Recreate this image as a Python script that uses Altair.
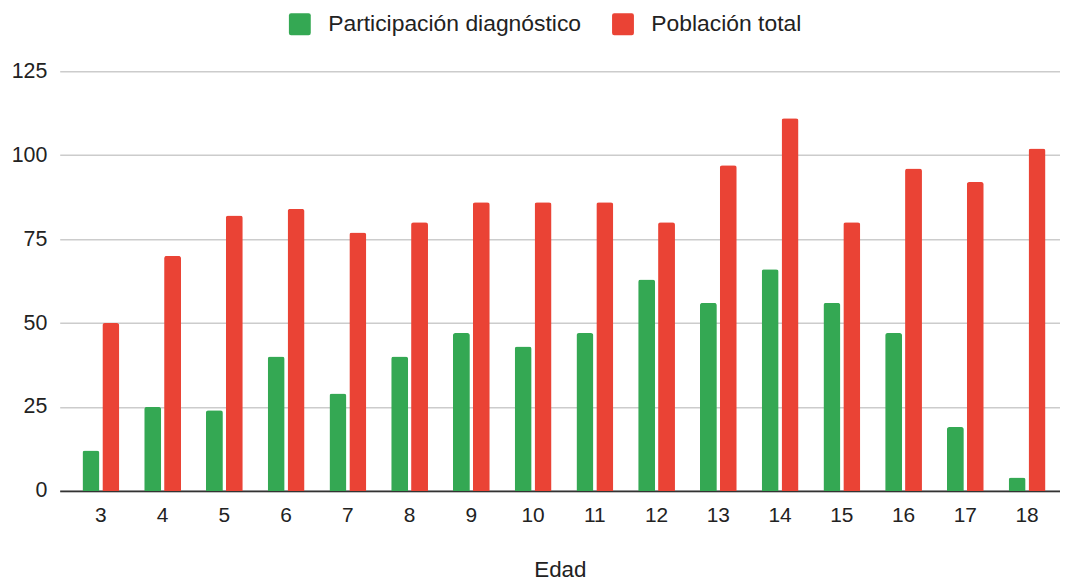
import altair as alt
import pandas as pd

edades = ["3", "4", "5", "6", "7", "8", "9", "10", "11", "12", "13", "14", "15", "16", "17", "18"]
participacion = [12, 25, 24, 40, 29, 40, 47, 43, 47, 63, 56, 66, 56, 47, 19, 4]
poblacion = [50, 70, 82, 84, 77, 80, 86, 86, 86, 80, 97, 111, 80, 96, 92, 102]
series = ["Participación diagnóstico", "Población total"]
colores = ["#34A853", "#EA4335"]

rows = []
for e, p, t in zip(edades, participacion, poblacion):
    rows.append({"Edad": e, "Serie": series[0], "Valor": p})
    rows.append({"Edad": e, "Serie": series[1], "Valor": t})
df = pd.DataFrame(rows)

FONT = "Liberation Sans"
ROUNDED_SQUARE = (
    "M -0.8,-1 H 0.8 Q 1,-1 1,-0.8 V 0.8 Q 1,1 0.8,1 H -0.8 "
    "Q -1,1 -1,0.8 V -0.8 Q -1,-1 -0.8,-1 Z"
)

chart = (
    alt.Chart(df)
    .mark_bar(cornerRadiusTopLeft=2.5, cornerRadiusTopRight=2.5)
    .encode(
        x=alt.X(
            "Edad:N",
            sort=edades,
            title="Edad",
            scale=alt.Scale(paddingInner=0.404, paddingOuter=0.302, align=0.61),
            axis=alt.Axis(
                labelAngle=0,
                ticks=False,
                labelPadding=14,
                labelFontSize=21,
                labelColor="#222222",
                labelFont=FONT,
                domainColor="#333333",
                domainWidth=2,
                titleFont=FONT,
                titleFontSize=22.5,
                titleFontWeight="normal",
                titleColor="#222222",
                titlePadding=33,
                grid=False,
            ),
        ),
        xOffset=alt.XOffset(
            "Serie:N",
            sort=series,
            scale=alt.Scale(paddingInner=0.15, paddingOuter=0),
        ),
        y=alt.Y(
            "Valor:Q",
            title=None,
            scale=alt.Scale(domain=[0, 125], nice=False),
            axis=alt.Axis(
                values=[0, 25, 50, 75, 100, 125],
                domain=False,
                ticks=False,
                labelPadding=13,
                labelFontSize=21.5,
                labelColor="#222222",
                labelFont=FONT,
                gridColor="#cccccc",
                gridWidth=1.5,
            ),
        ),
        color=alt.Color(
            "Serie:N",
            sort=series,
            scale=alt.Scale(domain=series, range=colores),
            legend=alt.Legend(
                title=None,
                orient="none",
                direction="horizontal",
                legendX=230,
                legendY=-59,
                symbolType=ROUNDED_SQUARE,
                symbolSize=484,
                symbolStrokeWidth=0,
                symbolOpacity=1,
                labelFont=FONT,
                labelFontSize=23,
                labelColor="#222222",
                labelOffset=17,
                labelLimit=400,
                columnPadding=30,
            ),
        ),
    )
    .properties(
        width=1006,
        height=422,
        padding={"left": 52, "top": 62, "right": 0, "bottom": 90},
        autosize=alt.AutoSizeParams(type="none"),
    )
    .configure_view(stroke=None)
)

chart.save("out.html", embed_options={"renderer": "svg", "actions": False})
